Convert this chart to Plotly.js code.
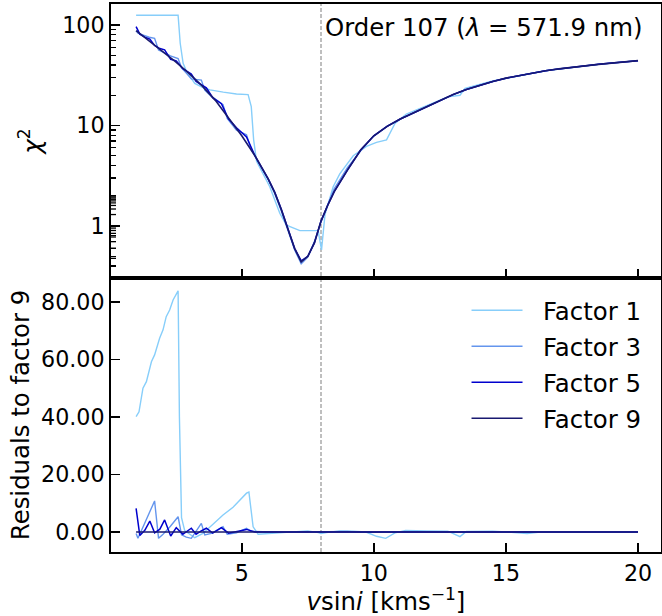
<!DOCTYPE html>
<html>
<head>
<meta charset="utf-8">
<script src="https://cdn.plot.ly/plotly-3.0.1.min.js"></script>
<style>html,body{margin:0;padding:0;background:#fff;}</style>
</head>
<body>
<div id="chart" style="width:662px;height:616px;"></div>
<script>
// ---- data ----
const seriesNames = ['Factor 1', 'Factor 3', 'Factor 5', 'Factor 9'];
const vlineX = 8;

// chi^2, factor 9
const x9 = [1,1.5,2,2.5,3,3.5,4,4.5,5,5.5,6,6.25,6.5,6.75,7,7.25,7.5,7.75,8,8.25,8.5,9,9.5,10,10.5,11,11.5,12,12.5,13,13.5,14,14.5,15,15.5,16,16.5,17,17.5,18,18.5,19,19.5,20];
const chi9 = [88,69,55,43,33,24.8,17.8,12,7.9,5.0,2.95,2.15,1.45,0.93,0.6,0.44,0.5,0.68,1.12,1.6,2.2,3.6,5.7,7.9,9.8,11.6,13.3,15.3,17.5,20.3,22.8,25.2,27.4,29.6,31.5,33.4,35.1,36.6,38,39.3,40.6,41.8,43.1,44.2];

// chi^2, factor 5
const x5 = [1,1.14,1.33,1.52,1.7,1.9,2.08,2.31,2.52,2.77,3.09,3.27,3.45,3.66,3.9,4.23,4.5,4.8,5.18,5.5,6,6.25,6.5,6.75,7,7.25,7.5,7.75,8,8.25,8.5,9,9.5,10,10.5,11,11.5,12,12.5,13,13.5,14,14.5,15,15.5,16,16.5,17,17.5,18,18.5,19,19.5,20];
const chi5 = [96.2,81.2,75.8,72.5,62.7,58.3,56.7,45.6,44,36.7,32.6,27.4,25.7,23.7,18.9,16.5,11.6,9.5,7.7,5.0,2.95,2.17,1.46,0.94,0.6,0.45,0.5,0.68,1.12,1.6,2.2,3.6,5.7,7.9,9.8,11.6,13.3,15.3,17.5,20.3,22.8,25.2,27.4,29.6,31.5,33.4,35.1,36.6,38,39.3,40.6,41.8,43.1,44.2];

// chi^2, factor 3
const x3 = [1,1.07,1.3,1.5,1.7,1.85,2.0,2.3,2.59,2.72,2.9,3.09,3.47,3.6,3.85,4.29,4.45,4.8,5.18,5.35,6,6.25,6.5,6.75,7,7.25,7.5,7.75,8,8.25,8.5,9,9.5,10,10.5,11,11.5,12,12.5,13,13.5,14,14.5,15,15.5,16,16.5,17,17.5,18,18.5,19,19.5,20];
const chi3 = [87.5,83,78.8,75.5,73.8,56.5,54,49.3,46.3,37.5,33.2,29.1,28.3,22.5,19.5,16.1,11.8,9.0,8.1,5.8,2.9,2.1,1.4,0.9,0.58,0.42,0.49,0.7,1.1,1.62,2.35,3.8,5.6,7.9,9.8,11.6,13.3,15.3,17.5,20.3,22.8,25.2,27.4,29.6,31.5,33.4,35.1,36.6,38,39.3,40.6,41.8,43.1,44.2];

// chi^2, factor 1
const x1 = [1,2.59,2.67,2.78,2.9,3.03,3.22,3.53,3.8,4.3,4.8,5.24,5.36,5.45,5.56,6.06,6.44,6.69,7.2,7.89,8.02,8.15,8.46,8.71,9.22,9.72,10.1,10.48,10.8,11.23,12,12.8,13.26,13.45,14.5,15.3,15.8,16.5,17.5,18.5,20];
const chi1 = [125,125,65.8,41.6,35,31,26.2,23.9,22.6,21.5,20.6,20.3,15.4,7.2,4.4,2.46,1.34,1.02,0.9,0.9,0.58,1.3,2.46,3.3,5.0,6.2,6.8,7.2,10.5,13.0,15.9,19.3,20.0,23.4,27.7,30.8,32.4,35.1,38.0,40.6,44.2];

// residuals to factor 9
const xr1 = [1,1.11,1.26,1.39,1.58,1.7,1.89,2.02,2.14,2.27,2.4,2.59,2.64,2.72,2.84,3.22,3.53,3.91,4.29,4.67,4.92,5.18,5.27,5.43,5.62,6.1,6.5,7.0,7.25,7.5,7.9,8.0,8.2,8.7,9.2,9.7,10.1,10.45,10.8,11.2,12,12.8,13.26,13.5,14.5,15.3,15.8,16.3,17,18,19,20];
const res1 = [40.1,41.8,50,52.3,59.2,61.6,67.4,70.3,74.9,77.2,80.7,83.9,40,5,0.5,-2,-0.5,2.8,5.9,8.6,11.1,13.5,13.9,1.8,-0.8,-0.5,0,0.3,0.45,0.4,-0.2,-0.55,-0.2,0.4,0.3,0,-1.5,-2.2,-0.3,0.5,0.4,0.3,-1.6,0.2,0.3,-0.1,-0.5,0,0.1,0,0,0];
const res3 = [-0.5,-2.2,2.5,6.5,10.8,-2.2,-1.0,2.0,5.3,-1.0,-1.8,-2.2,3.0,-1.0,-0.5,1.8,-0.8,-0.3,1.3,0.2,-0.05,-0.05,-0.05,-0.03,-0.02,-0.02,-0.01,0.02,-0.02,0.02,0.15,0.2,-0.1,0,0,0,0,0,0,0,0,0,0,0,0,0,0,0,0,0,0,0,0,0];
const res5 = [8.2,-1.2,0.6,3.8,-0.3,1.0,4.2,-1.4,1.5,-0.8,1.3,-0.8,0.3,1.3,-0.4,1.5,-0.4,0.2,0.9,0,0,0.02,0.01,0.01,0,0.01,0,0,0,0,0,0,0,0,0,0,0,0,0,0,0,0,0,0,0,0,0,0,0,0,0,0,0,0];
const xr9 = [1,20];
const res9 = [0,0];

// tick positions
const xTicks = [5, 10, 15, 20];
const chiMinorTicks = [0.4,0.5,0.6,0.7,0.8,0.9,2,3,4,5,6,7,8,9,20,30,40,50,60,70,80,90];
const resTicks = [0, 20, 40, 60, 80];

// ---- styling ----
const colors = ['#87CEFA', '#6495ED', '#0000CD', '#191970'];
const widths = [1.4, 1.4, 1.5, 1.6];
const FONT = 'DejaVu Sans, Liberation Sans, sans-serif';

const topX = [x1, x3, x5, x9];
const topY = [chi1, chi3, chi5, chi9];
const botX = [xr1, x3, x5, xr9];
const botY = [res1, res3, res5, res9];

const traces = [];
for (let i = 0; i < 4; i++) {
  traces.push({
    x: topX[i], y: topY[i], type: 'scatter', mode: 'lines',
    xaxis: 'x2', yaxis: 'y2', name: seriesNames[i], showlegend: false,
    line: {color: colors[i], width: widths[i]}, hoverinfo: 'skip'
  });
}
for (let i = 0; i < 4; i++) {
  traces.push({
    x: botX[i], y: botY[i], type: 'scatter', mode: 'lines',
    xaxis: 'x', yaxis: 'y', name: '\u00a0\u00a0' + seriesNames[i], legendgroup: 'g' + i,
    line: {color: colors[i], width: widths[i]}, hoverinfo: 'skip'
  });
}

const tickFont = {family: FONT, size: 22.2, color: '#000'};
const labFont = {family: FONT, size: 24.4, color: '#000'};
const xr = [0.05, 20.87];
const chiRange = [-0.517, 2.209];

const common = {
  showline: true, linewidth: 2, linecolor: '#000', mirror: true,
  ticks: 'inside', ticklen: 9, tickwidth: 1.6, tickcolor: '#000',
  showgrid: false, zeroline: false, tickfont: tickFont
};

// minor ticks on the log axis, drawn as short segments at the left spine
const minorShapes = chiMinorTicks.map(v => ({
  type: 'line', xref: 'x2 domain', yref: 'y2',
  x0: 0, x1: 5 / 550, y0: Math.log10(v), y1: Math.log10(v),
  line: {color: '#000', width: 1.3}
}));

const layout = {
  width: 662, height: 616,
  margin: {l: 111, r: 1, t: 4, b: 64},
  paper_bgcolor: '#fff', plot_bgcolor: '#fff',
  font: {family: FONT, color: '#000'},
  showlegend: true,
  legend: {
    x: 0.6464, y: 0.482, xanchor: 'left', yanchor: 'top',
    font: labFont, bgcolor: 'rgba(0,0,0,0)', borderwidth: 0,
    tracegroupgap: 1.3, itemwidth: 51, traceorder: 'grouped'
  },
  xaxis: Object.assign({}, common, {
    anchor: 'y', domain: [0, 1], range: xr,
    tickvals: xTicks, ticktext: xTicks.map(String),
    title: {text: '<i>v</i>sin<i>i</i> [kms<sup>−1</sup>]', font: labFont, standoff: 4}
  }),
  yaxis: Object.assign({}, common, {
    anchor: 'x', domain: [0, 0.5], range: [-6.96, 88.35],
    tickvals: resTicks, tickformat: '.2f',
    title: {text: 'Residuals to factor 9', font: labFont, standoff: 4}
  }),
  xaxis2: Object.assign({}, common, {
    anchor: 'y2', domain: [0, 1], range: xr, matches: 'x',
    tickvals: xTicks, showticklabels: false
  }),
  yaxis2: Object.assign({}, common, {
    anchor: 'x2', domain: [0.5, 1], type: 'log', range: chiRange,
    tickmode: 'linear', tick0: 0, dtick: 1,
    minor: {dtick: 'D1', ticks: 'inside', ticklen: 5, tickwidth: 1.3, tickcolor: '#000', showgrid: false},
    title: {text: '<i>χ</i><sup>2</sup>', font: labFont, standoff: 14}
  }),
  shapes: [{
    type: 'line', xref: 'x', yref: 'paper', x0: vlineX, x1: vlineX, y0: 0, y1: 1,
    line: {color: '#7f7f7f', width: 1, dash: '4px,2px'}, layer: 'below'
  }].concat(minorShapes),
  annotations: [{
    xref: 'x', yref: 'paper', x: vlineX, y: 0.958, xanchor: 'left', yanchor: 'middle',
    xshift: 2, showarrow: false,
    text: 'Order 107 (<i>λ</i> = 571.9 nm)', font: labFont
  }]
};

Plotly.newPlot('chart', traces, layout, {displayModeBar: false, staticPlot: true});
</script>
</body>
</html>
